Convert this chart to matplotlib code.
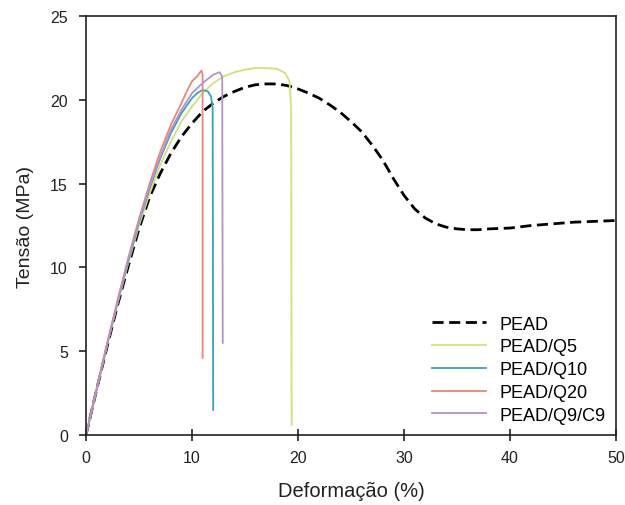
import matplotlib
matplotlib.use("Agg")
import matplotlib.pyplot as plt

plt.rcParams['font.family'] = ['Liberation Sans', 'DejaVu Sans']

# Curvas tensão x deformação
pead_x = [0, 1, 2, 3, 4, 5, 6, 7, 8, 9, 10, 11, 12, 13, 14, 15, 16, 17, 18, 19,
          20, 21, 22, 23, 24, 25, 26, 27, 28, 29, 30, 31, 32, 33, 34, 35, 36, 37,
          38, 40, 42, 44, 46, 48, 50]
pead_y = [0, 2.7, 5.3, 7.8, 10.1, 12.3, 14.2, 15.6, 16.8, 17.8, 18.6, 19.3, 19.8,
          20.2, 20.5, 20.75, 20.9, 20.95, 20.95, 20.85, 20.65, 20.4, 20.1, 19.7,
          19.25, 18.7, 18.1, 17.3, 16.4, 15.3, 14.3, 13.5, 12.95, 12.6, 12.4, 12.3,
          12.25, 12.25, 12.3, 12.35, 12.5, 12.6, 12.7, 12.75, 12.8]

q5_x = [0, 1, 2, 3, 4, 5, 6, 7, 8, 9, 10, 11, 12, 13, 14, 15, 16, 17, 18, 18.8,
        19.2, 19.35, 19.4]
q5_y = [0, 2.7, 5.4, 7.9, 10.3, 12.5, 14.4, 16.1, 17.5, 18.7, 19.6, 20.4, 21.0,
        21.4, 21.65, 21.8, 21.9, 21.9, 21.85, 21.6, 21.1, 19.5, 0.6]

q10_x = [0, 1, 2, 3, 4, 5, 6, 7, 8, 9, 10, 10.5, 11, 11.5, 11.8, 11.95, 12.0]
q10_y = [0, 2.7, 5.4, 8.0, 10.4, 12.7, 14.7, 16.5, 18.0, 19.2, 20.1, 20.4, 20.6,
         20.5, 20.2, 19.5, 1.5]

q20_x = [0, 1, 2, 3, 4, 5, 6, 7, 8, 9, 9.5, 10, 10.3, 10.5, 10.7, 10.9, 11.0, 11.0]
q20_y = [0, 2.8, 5.5, 8.1, 10.6, 12.9, 15.0, 16.9, 18.5, 19.8, 20.5, 21.1, 21.3,
         21.4, 21.6, 21.75, 21.5, 4.6]

q9c9_x = [0, 1, 2, 3, 4, 5, 6, 7, 8, 9, 10, 11, 12, 12.6, 12.85, 12.9]
q9c9_y = [0, 2.7, 5.4, 8.0, 10.5, 12.8, 14.8, 16.6, 18.2, 19.4, 20.4, 21.0, 21.5,
          21.65, 21.4, 5.5]

fig = plt.figure(figsize=(6.25, 5.06), dpi=100)
ax = fig.add_axes([0.1376, 0.1383, 0.848, 0.828])

ax.plot(pead_x, pead_y, color='black', lw=2.0, linestyle=(0, (4, 2)), label='PEAD')
ax.plot(q5_x, q5_y, color='#d2e07c', lw=1.3, label='PEAD/Q5')
ax.plot(q10_x, q10_y, color='#3aa0c0', lw=1.3, label='PEAD/Q10')
ax.plot(q20_x, q20_y, color='#e88878', lw=1.3, label='PEAD/Q20')
ax.plot(q9c9_x, q9c9_y, color='#b890c8', lw=1.3, label='PEAD/Q9/C9')

ax.set_xlim(0, 50)
ax.set_ylim(0, 25)
ax.set_xticks([0, 10, 20, 30, 40, 50])
ax.set_yticks([0, 5, 10, 15, 20, 25])
ax.tick_params(length=5, width=1.2, labelsize=11.5, colors='#222222',
               top=False, right=False)
ax.tick_params(axis='x', direction='inout', length=9, pad=6)
ax.tick_params(axis='y', direction='out', length=5, pad=8)
for s in ax.spines.values():
    s.set_linewidth(1.2)
    s.set_color('#222222')

ax.set_xlabel('Deformação (%)', fontsize=14.5, color='#222222', labelpad=12)
ax.set_ylabel('Tensão (MPa)', fontsize=14, color='#222222', labelpad=12)

ax.legend(loc='upper left', bbox_to_anchor=(0.653, 0.285), frameon=False,
          fontsize=13, handlelength=3.0, handletextpad=0.75, labelspacing=0.32,
          borderpad=0, borderaxespad=0)

fig.savefig('out.png', dpi=100)
